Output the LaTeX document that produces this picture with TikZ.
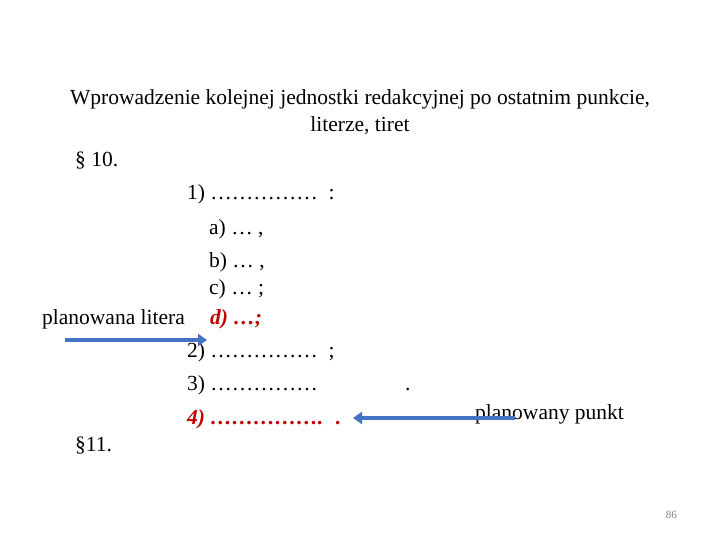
\documentclass[tikz,border=0pt]{standalone}
\usepackage{fontspec}
\setmainfont{Liberation Serif}
\usetikzlibrary{arrows.meta}
\definecolor{arrblue}{RGB}{68,114,196}
\definecolor{redt}{RGB}{192,0,0}
\begin{document}
\begin{tikzpicture}[x=1pt,y=-1pt,
  txt/.style={anchor=base west,inner sep=0pt,font=\fontsize{21.5}{24}\selectfont},
  rtxt/.style={txt,text=redt,font=\fontsize{21.5}{24}\selectfont\bfseries\itshape},
  barrow/.style={draw=arrblue,line width=4pt,-{Triangle[length=9pt,width=12pt]}}]
\useasboundingbox (0,0) rectangle (720,540);
\node[font=\fontsize{21.5}{27}\selectfont,align=center,anchor=north] (title) at (360,86)
  {Wprowadzenie kolejnej jednostki redakcyjnej po ostatnim punkcie,\\ literze, tiret};
\node[txt] (p10) at (75,167) {§ 10.};
\node[txt] (l1) at (187,200) {1) …………… \ :};
\node[txt] (la) at (209,234) {a) … ,};
\node[txt] (lb) at (209,267) {b) … ,};
\node[txt] (lc) at (209,294) {c) … ;};
\node[txt] (pl) at (42,324) {planowana litera};
\node[rtxt] (ld) at (210,324) {d) …;};
\node[txt] (l2) at (187,357) {2) …………… \ ;};
\node[txt] (l3) at (187,390) {3) ……………};
\node[txt] (dot) at (405,390) {.};
\node[rtxt] (l4) at (187,424) {4) ……………. \ .};
\node[txt] (pp) at (475,419) {planowany punkt};
\node[txt] (p11) at (75,451) {§11.};
\node[anchor=base east,inner sep=0pt,font=\fontsize{11}{12}\selectfont,text=gray] (num) at (677,518) {86};
\coordinate (a1s) at (65,340);
\coordinate (a1e) at (207,340);
\coordinate (a2s) at (515,418);
\coordinate (a2e) at (353,418);
\draw[barrow] (a1s) -- (a1e);
\draw[barrow] (a2s) -- (a2e);
\end{tikzpicture}
\end{document}
